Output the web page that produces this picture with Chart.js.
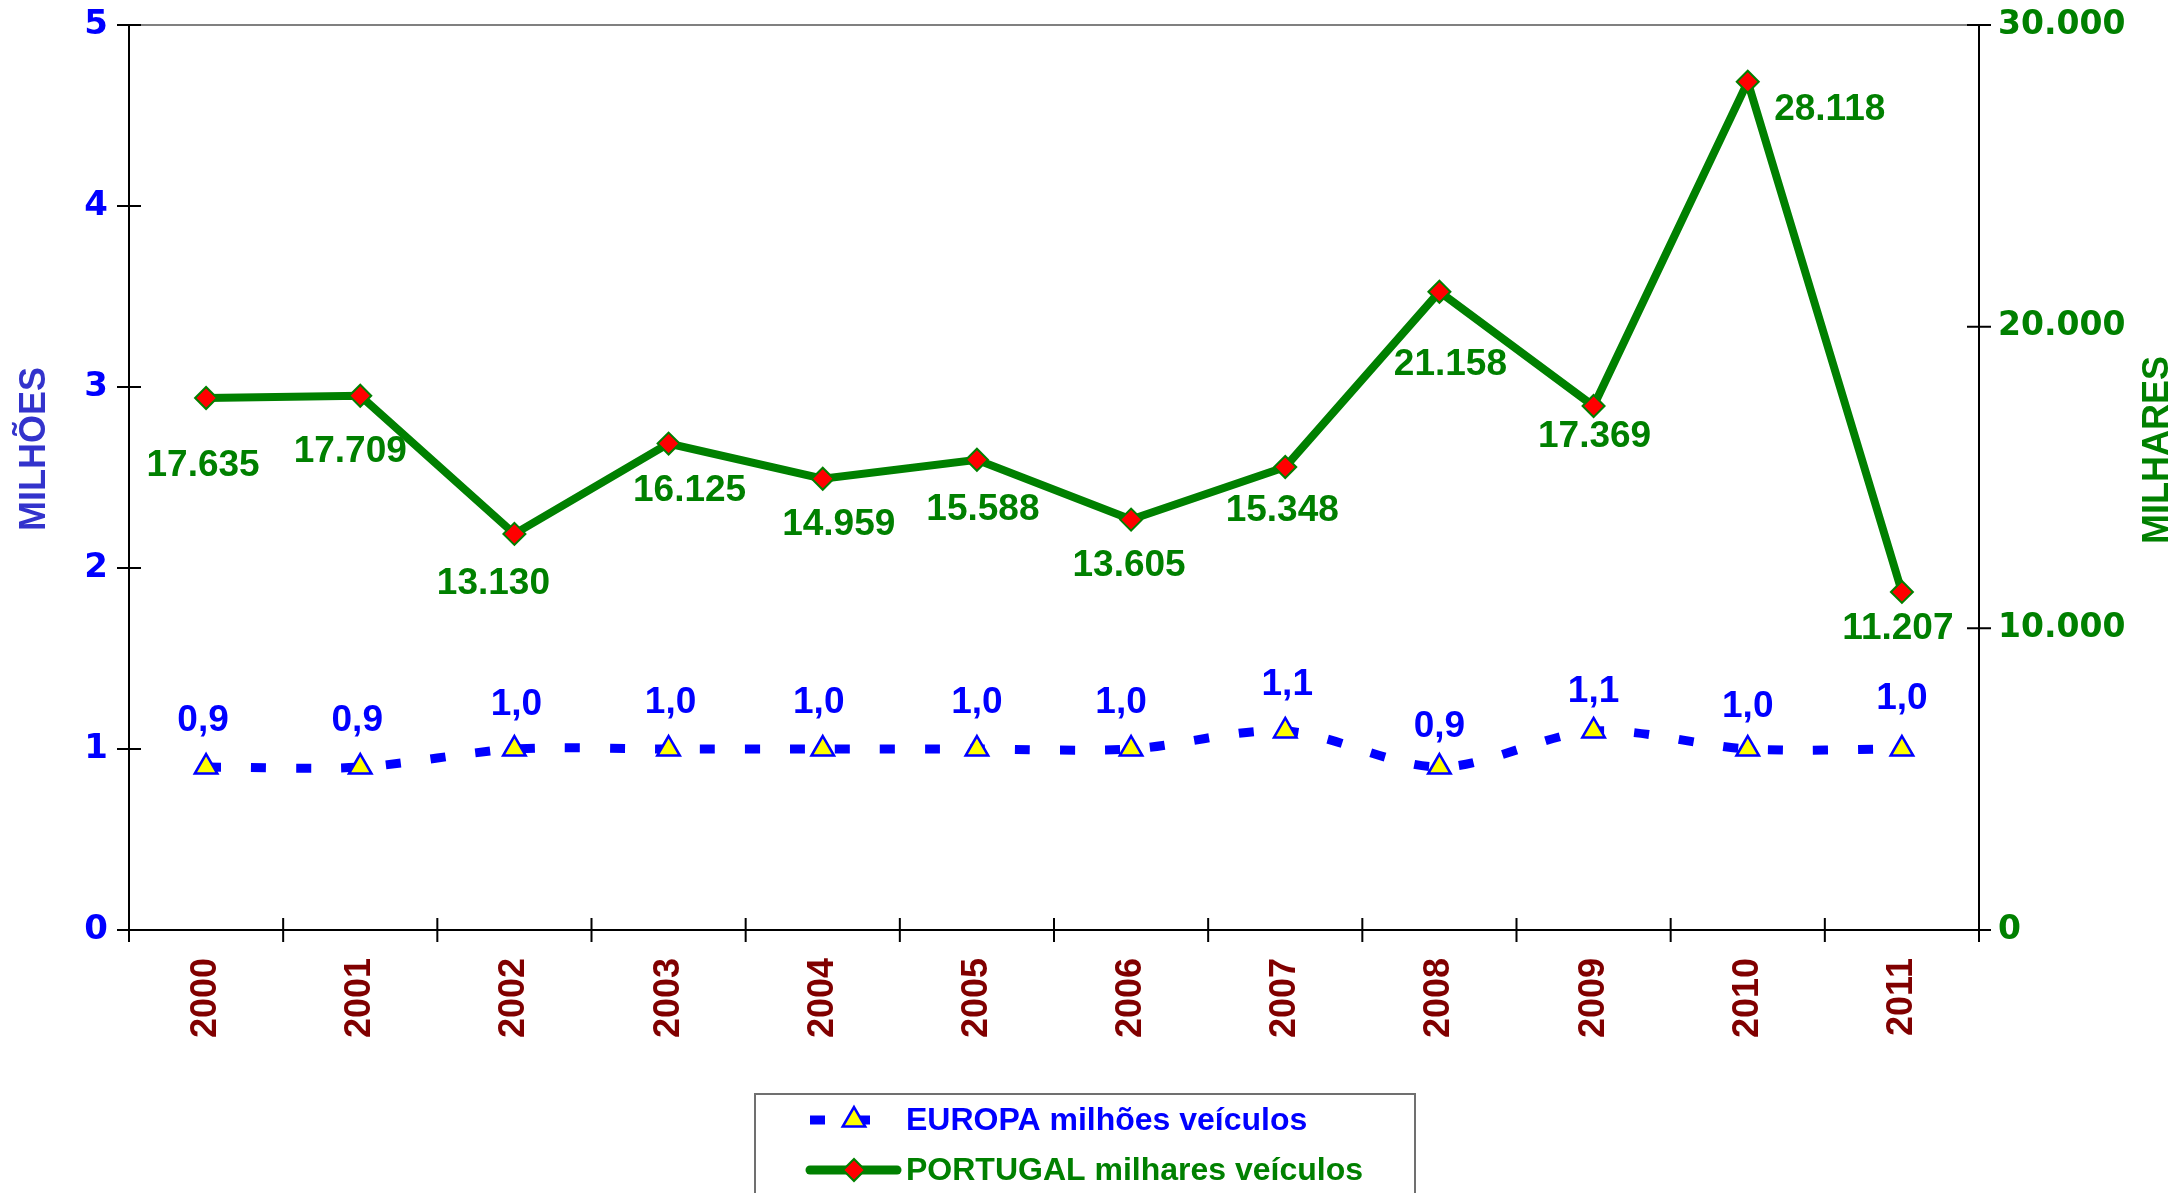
<!DOCTYPE html>
<html>
<head>
<meta charset="utf-8">
<title>Europa / Portugal veículos</title>
<script src="https://cdn.jsdelivr.net/npm/chart.js@4.4.1/dist/chart.umd.min.js"></script>
<style>
  html, body { margin: 0; padding: 0; background: #fff; }
  #wrap { width: 2179px; height: 1193px; position: relative; }
</style>
</head>
<body>
<div id="wrap"><canvas id="chart" width="2179" height="1193"></canvas></div>
<script>
// Data
const years = ['2000', '2001', '2002', '2003', '2004', '2005', '2006', '2007', '2008', '2009', '2010', '2011'];
const europaValues = [0.9, 0.9, 1.0, 1.0, 1.0, 1.0, 1.0, 1.1, 0.9, 1.1, 1.0, 1.0];
const portugalValues = [17635, 17709, 13130, 16125, 14959, 15588, 13605, 15348, 21158, 17369, 28118, 11207];
const leftTickValues = [0, 1, 2, 3, 4, 5];
const rightTickValues = [0, 10000, 20000, 30000];

// Where each value label sits relative to its point (px)
const europaLabelShift = [[-3, -46], [-3, -46], [2, -44], [2, -46], [-4, -46], [0, -46], [-10, -46], [2, -46], [0, -40], [0, -39], [0, -42], [0, -50]];
const portugalLabelShift = [[-3, 68], [-10, 56], [-21, 50], [21, 47], [16, 46], [6, 50], [-2, 46], [-3, 44], [11, 73], [1, 31], [82, 28], [-4, 37]];

const BLUE = '#0000ff';
const GREEN = '#008000';
const LABEL_FONT = 'bold 37px "Liberation Sans", Arial, sans-serif';
const TICK = 12;

const fmtEuropa = (v) => v.toFixed(1).replace('.', ',');
const fmtPortugal = (v) => String(Math.round(v)).replace(/\B(?=(\d{3})+(?!\d))/g, '.');

function drawMarker(ctx, style, x, y, r, fill, stroke, bw) {
    ctx.save();
    ctx.fillStyle = fill;
    ctx.strokeStyle = stroke;
    ctx.lineWidth = bw;
    ctx.setLineDash([]);
    Chart.helpers.drawPoint(ctx, { pointStyle: style, radius: r, borderWidth: bw }, x, y);
    ctx.restore();
}

// keep the plot box where the layout padding puts it
function noScalePadding(s) {
    s.paddingTop = 0;
    s.paddingBottom = 0;
    s.paddingLeft = 0;
    s.paddingRight = 0;
}

// Axis lines, crossing ticks and plot frame
const framePlugin = {
    id: 'frame',
    beforeDatasetsDraw(chart) {
        const { ctx, chartArea: a, scales } = chart;
        ctx.save();
        ctx.strokeStyle = '#808080';
        ctx.lineWidth = 2;
        ctx.beginPath();
        ctx.moveTo(a.left, a.top);
        ctx.lineTo(a.right, a.top);
        ctx.stroke();

        ctx.strokeStyle = '#000';
        ctx.lineWidth = 2;
        ctx.beginPath();
        ctx.moveTo(a.left, a.top);
        ctx.lineTo(a.left, a.bottom + TICK);
        ctx.moveTo(a.right, a.top);
        ctx.lineTo(a.right, a.bottom + TICK);
        ctx.moveTo(a.left - TICK, a.bottom);
        ctx.lineTo(a.right, a.bottom);
        leftTickValues.forEach((v) => {
            const y = scales.y.getPixelForValue(v);
            ctx.moveTo(a.left - TICK, y);
            ctx.lineTo(a.left + TICK, y);
        });
        rightTickValues.forEach((v) => {
            const y = scales.y2.getPixelForValue(v);
            ctx.moveTo(a.right - TICK, y);
            ctx.lineTo(a.right + TICK, y);
        });
        for (let i = 1; i < years.length; i++) {
            const x = (scales.x.getPixelForValue(i - 1) + scales.x.getPixelForValue(i)) / 2;
            ctx.moveTo(x, a.bottom - TICK);
            ctx.lineTo(x, a.bottom + TICK);
        }
        ctx.stroke();

        // axis titles
        ctx.font = 'bold 36px "Liberation Sans", Arial, sans-serif';
        ctx.textAlign = 'center';
        ctx.textBaseline = 'middle';
        ctx.fillStyle = '#3333cc';
        ctx.translate(35, 449);
        ctx.rotate(-Math.PI / 2);
        ctx.fillText('MILHÕES', 0, 0);
        ctx.setTransform(1, 0, 0, 1, 0, 0);
        ctx.fillStyle = GREEN;
        ctx.translate(2158, 450);
        ctx.rotate(-Math.PI / 2);
        ctx.fillText('MILHARES', 0, 0);
        ctx.restore();
    },
    afterDatasetsDraw(chart) {
        const { ctx } = chart;
        ctx.save();
        ctx.font = LABEL_FONT;
        ctx.textAlign = 'center';
        ctx.textBaseline = 'middle';
        const eu = chart.getDatasetMeta(0).data;
        ctx.fillStyle = BLUE;
        eu.forEach((p, i) => {
            const [dx, dy] = europaLabelShift[i];
            ctx.fillText(fmtEuropa(europaValues[i]), p.x + dx, p.y + dy);
        });
        const pt = chart.getDatasetMeta(1).data;
        ctx.fillStyle = GREEN;
        pt.forEach((p, i) => {
            const [dx, dy] = portugalLabelShift[i];
            ctx.fillText(fmtPortugal(portugalValues[i]), p.x + dx, p.y + dy);
        });
        ctx.restore();
    },
    afterDraw(chart) {
        const { ctx } = chart;
        ctx.save();
        // legend box (runs off the bottom edge)
        ctx.strokeStyle = '#707070';
        ctx.lineWidth = 2;
        ctx.strokeRect(755, 1094, 660, 120);

        const x0 = 810, x1 = 899, mx = 854;
        ctx.strokeStyle = BLUE;
        ctx.lineWidth = 9;
        ctx.lineCap = 'butt';
        ctx.setLineDash([15, 30]);
        ctx.beginPath();
        ctx.moveTo(x0, 1120);
        ctx.lineTo(x1, 1120);
        ctx.stroke();
        drawMarker(ctx, 'triangle', mx, 1120, 13, '#ffff00', BLUE, 2.5);

        ctx.setLineDash([]);
        ctx.strokeStyle = GREEN;
        ctx.lineWidth = 9;
        ctx.lineCap = 'round';
        ctx.beginPath();
        ctx.moveTo(x0, 1170);
        ctx.lineTo(x1 - 2, 1170);
        ctx.stroke();
        drawMarker(ctx, 'rectRot', mx, 1170, 11, '#ff0000', GREEN, 2);

        ctx.font = 'bold 32px "Liberation Sans", Arial, sans-serif';
        ctx.textAlign = 'left';
        ctx.textBaseline = 'middle';
        ctx.fillStyle = BLUE;
        ctx.fillText('EUROPA milhões veículos', 906, 1121);
        ctx.fillStyle = GREEN;
        ctx.fillText('PORTUGAL milhares veículos', 906, 1171);
        ctx.restore();
    }
};

new Chart(document.getElementById('chart'), {
    type: 'line',
    data: {
        labels: years,
        datasets: [
            {
                label: 'EUROPA milhões veículos',
                data: europaValues,
                yAxisID: 'y',
                borderColor: BLUE,
                borderWidth: 9,
                borderDash: [15, 30],
                borderCapStyle: 'butt',
                tension: 0.3,
                pointStyle: 'triangle',
                pointRadius: 13,
                pointBackgroundColor: '#ffff00',
                pointBorderColor: BLUE,
                pointBorderWidth: 2.5,
                fill: false,
                clip: false,
            },
            {
                label: 'PORTUGAL milhares veículos',
                data: portugalValues,
                yAxisID: 'y2',
                borderColor: GREEN,
                borderWidth: 8,
                tension: 0,
                pointStyle: 'rectRot',
                pointRadius: 11,
                pointBackgroundColor: '#ff0000',
                pointBorderColor: GREEN,
                pointBorderWidth: 2,
                fill: false,
                clip: false,
            },
        ],
    },
    options: {
        responsive: false,
        maintainAspectRatio: false,
        devicePixelRatio: 1,
        animation: false,
        events: [],
        layout: { padding: { top: 25, left: 0, right: 0, bottom: 0 } },
        scales: {
            x: {
                type: 'category',
                offset: true,
                grid: { display: false, drawTicks: false },
                border: { display: false },
                ticks: {
                    color: '#800000',
                    font: { family: '"Liberation Sans", Arial, sans-serif', weight: 'bold', size: 36 },
                    minRotation: 90,
                    maxRotation: 90,
                    padding: 28,
                    autoSkip: false,
                },
                afterFit: (s) => { s.height = 263; noScalePadding(s); },
            },
            y: {
                position: 'left',
                min: 0,
                max: 5,
                grid: { display: false, drawTicks: false },
                border: { display: false },
                afterBuildTicks: (s) => { s.ticks = leftTickValues.map((v) => ({ value: v })); },
                ticks: {
                    color: BLUE,
                    font: { family: '"DejaVu Sans", Verdana, sans-serif', weight: 'bold', size: 34 },
                    padding: 21,
                },
                afterFit: (s) => { s.width = 129; noScalePadding(s); },
            },
            y2: {
                position: 'right',
                min: 0,
                max: 30000,
                grid: { display: false, drawTicks: false },
                border: { display: false },
                afterBuildTicks: (s) => { s.ticks = rightTickValues.map((v) => ({ value: v })); },
                ticks: {
                    color: GREEN,
                    font: { family: '"DejaVu Sans", Verdana, sans-serif', weight: 'bold', size: 33 },
                    padding: 19,
                    callback: (v) => fmtPortugal(v),
                },
                afterFit: (s) => { s.width = 200; noScalePadding(s); },
            },
        },
        plugins: {
            legend: { display: false },
            tooltip: { enabled: false },
        },
    },
    plugins: [framePlugin],
});
</script>
</body>
</html>
